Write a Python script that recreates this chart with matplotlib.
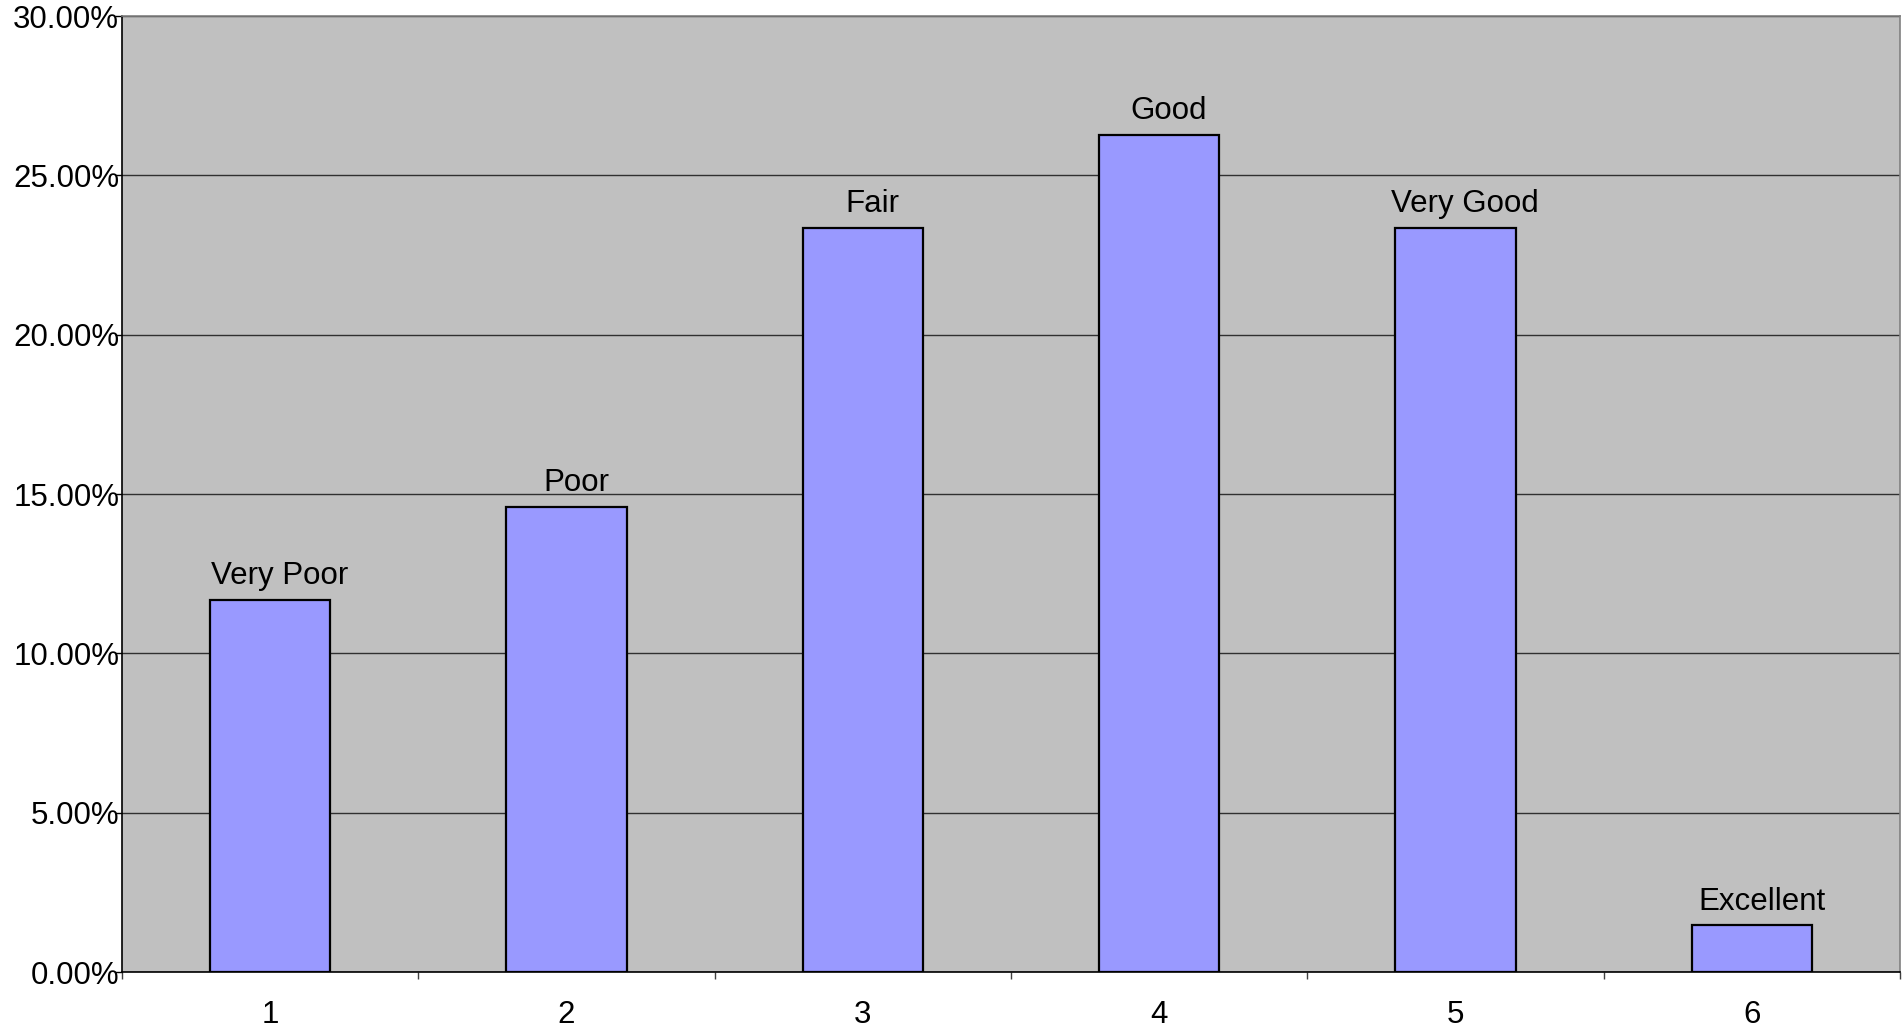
import numpy as np
import matplotlib.pyplot as plt
from matplotlib.ticker import FixedLocator, FuncFormatter

plt.rcParams['font.family'] = ['Liberation Sans', 'DejaVu Sans']

categories = [1, 2, 3, 4, 5, 6]
ratings = ['Very Poor', 'Poor', 'Fair', 'Good', 'Very Good', 'Excellent']
percentages = [11.68, 14.60, 23.36, 26.28, 23.36, 1.46]

fig = plt.figure(figsize=(19.02, 10.32), dpi=100)
ax = fig.add_axes([122 / 1902, 1 - 972 / 1032, 1778 / 1902, 956 / 1032])
ax.set_facecolor('#C0C0C0')

x = np.arange(len(categories)) + 1
ax.bar(x, percentages, width=0.405, color='#9999FF', edgecolor='black',
       linewidth=1.6, zorder=3)

# rating labels over each bar
for xi, val, name in zip(x, percentages, ratings):
    ax.annotate(name, (xi, val), xytext=(7, 6), textcoords='offset points',
                ha='center', va='bottom', fontsize=22.5, zorder=4)

ax.set_xlim(0.5, 6.5)
ax.set_ylim(0, 30)
ax.set_yticks(np.arange(0, 31, 5))
ax.yaxis.set_major_formatter(FuncFormatter(lambda v, p: f'{v:.2f}%'))
ax.grid(axis='y', color='#303030', linewidth=1.0, zorder=1)

# x ticks on category boundaries, labels at the centres
ax.xaxis.set_major_locator(FixedLocator(np.arange(0.5, 7, 1)))
ax.xaxis.set_minor_locator(FixedLocator(x))
ax.xaxis.set_major_formatter(FuncFormatter(lambda v, p: ''))
ax.set_xticklabels([str(c) for c in categories], minor=True)
ax.tick_params(axis='x', which='major', length=5, width=1, color='#404040')
ax.tick_params(axis='x', which='minor', length=0, pad=20, labelsize=22.5)
ax.tick_params(axis='y', length=5, width=1, pad=-3, labelsize=22.5)

for side in ['left', 'bottom']:
    ax.spines[side].set_color('black')
    ax.spines[side].set_linewidth(1.2)
for side in ['top', 'right']:
    ax.spines[side].set_color('#808080')
    ax.spines[side].set_linewidth(1.2)

fig.savefig('out.png', dpi=100)
